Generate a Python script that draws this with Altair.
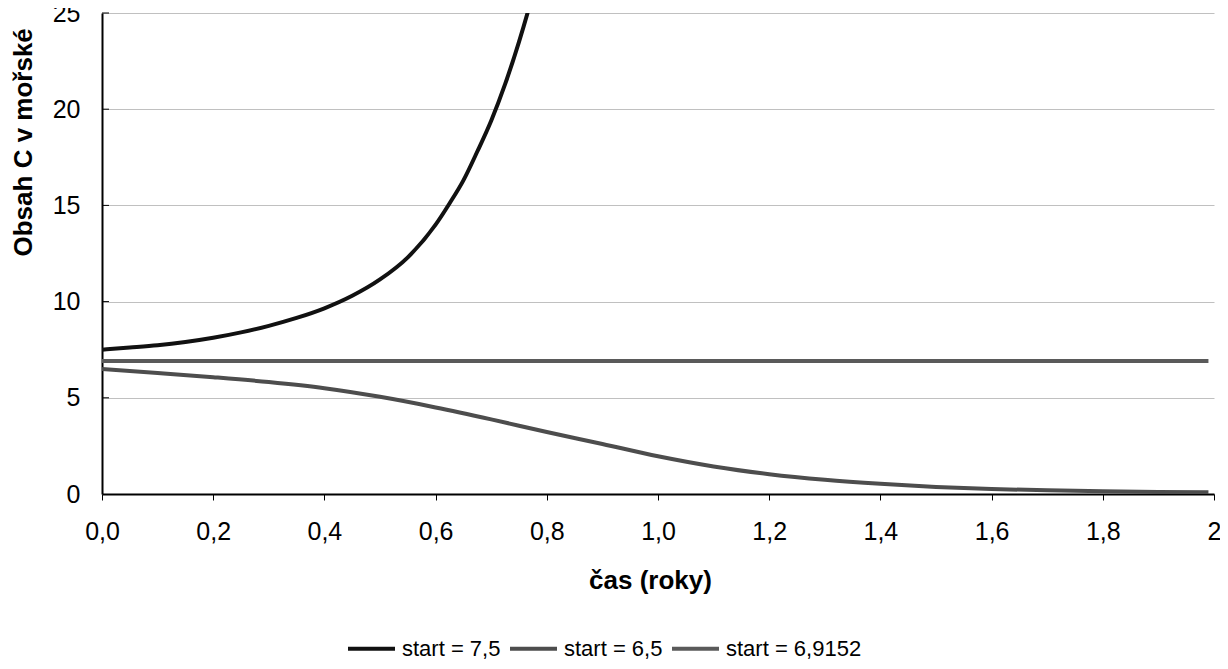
import altair as alt
import pandas as pd

# series names
series_names = ["start = 7,5", "start = 6,5", "start = 6,9152"]
series_colors = ["#111111", "#4d4d4d", "#5a5a5a"]

# start = 7,5 (grows, leaves the plot above 25)
t_up = [0.00, 0.05, 0.10, 0.15, 0.20, 0.25, 0.30, 0.35, 0.40, 0.45, 0.50,
        0.55, 0.60, 0.625, 0.65, 0.675, 0.70, 0.725, 0.75, 0.775, 0.80]
v_up = [7.50, 7.61, 7.73, 7.90, 8.12, 8.40, 8.74, 9.15, 9.65, 10.30, 11.15,
        12.30, 14.00, 15.10, 16.30, 17.80, 19.40, 21.30, 23.50, 26.00, 28.80]

# start = 6,5 (declines toward 0)
t_down = [0.00, 0.10, 0.20, 0.30, 0.40, 0.50, 0.60, 0.70, 0.80, 0.90, 1.00,
          1.10, 1.20, 1.30, 1.40, 1.50, 1.60, 1.70, 1.80, 1.90, 1.99]
v_down = [6.50, 6.29, 6.07, 5.82, 5.50, 5.05, 4.50, 3.88, 3.22, 2.60, 1.96,
          1.43, 1.03, 0.74, 0.53, 0.37, 0.26, 0.19, 0.14, 0.11, 0.09]

# start = 6,9152 (equilibrium, flat)
t_flat = [0.00, 0.50, 1.00, 1.50, 1.99]
v_flat = [6.9152, 6.9152, 6.9152, 6.9152, 6.9152]

x_ticks = [0.0, 0.2, 0.4, 0.6, 0.8, 1.0, 1.2, 1.4, 1.6, 1.8, 2.0]
y_ticks = [0, 5, 10, 15, 20, 25]

rows = []
for name, ts, vs in zip(series_names, [t_up, t_down, t_flat], [v_up, v_down, v_flat]):
    for t, v in zip(ts, vs):
        rows.append({"t": t, "value": v, "series": name})
df = pd.DataFrame(rows)

FONT = "Liberation Sans"

y_axis = alt.Axis(
    values=y_ticks, grid=True, gridColor="#c0c0c0", gridWidth=1,
    ticks=False, labelPadding=22,
    title="Obsah C v mořské", titleAngle=270, titleAlign="left",
    titleBaseline="middle", titleX=-79, titleY=243,
)
y_scale = alt.Scale(domain=[0, 25], nice=False)

lines = alt.Chart(df).mark_line(strokeWidth=4, clip=True, interpolate="monotone").encode(
    x=alt.X("t:Q", scale=alt.Scale(domain=[0, 2], nice=False),
            axis=alt.Axis(values=x_ticks, grid=False, tickSize=6, labelPadding=19,
                          labelFlush=False,
                          labelExpr="datum.value == 2 ? '2' : replace(format(datum.value, '.1f'), '.', ',')",
                          title="čas (roky)", titleBaseline="middle", titleAlign="center",
                          titleX=548, titleY=86)),
    y=alt.Y("value:Q", scale=y_scale, axis=y_axis),
    color=alt.Color("series:N", sort=series_names,
                    scale=alt.Scale(domain=series_names, range=series_colors),
                    legend=alt.Legend(orient="none", legendX=244, legendY=610,
                                      direction="horizontal", title=None,
                                      symbolType="stroke", symbolSize=2209,
                                      symbolStrokeWidth=4, labelFontSize=22,
                                      labelFont=FONT, labelColor="black",
                                      labelOffset=5, columnPadding=1, padding=0)),
)

tick_df = pd.DataFrame({"value": y_ticks[1:]})
inner_ticks = alt.Chart(tick_df).mark_rule(color="black", strokeWidth=1).encode(
    y=alt.Y("value:Q", scale=y_scale, axis=y_axis),
    x=alt.value(0), x2=alt.value(7),
)

chart = alt.layer(lines, inner_ticks).properties(
    width=1112, height=481,
    padding={"left": 94, "top": 5, "right": 6, "bottom": 167},
    autosize=alt.AutoSizeParams(type="none"),
).configure_view(stroke=None).configure_axis(
    labelFont=FONT, labelFontSize=25, labelColor="black",
    titleFont=FONT, titleFontSize=26, titleFontWeight="bold", titleColor="black",
    domainColor="black", domainWidth=2, tickColor="black",
)

chart.save("out.html", embed_options={"renderer": "svg", "actions": False})
